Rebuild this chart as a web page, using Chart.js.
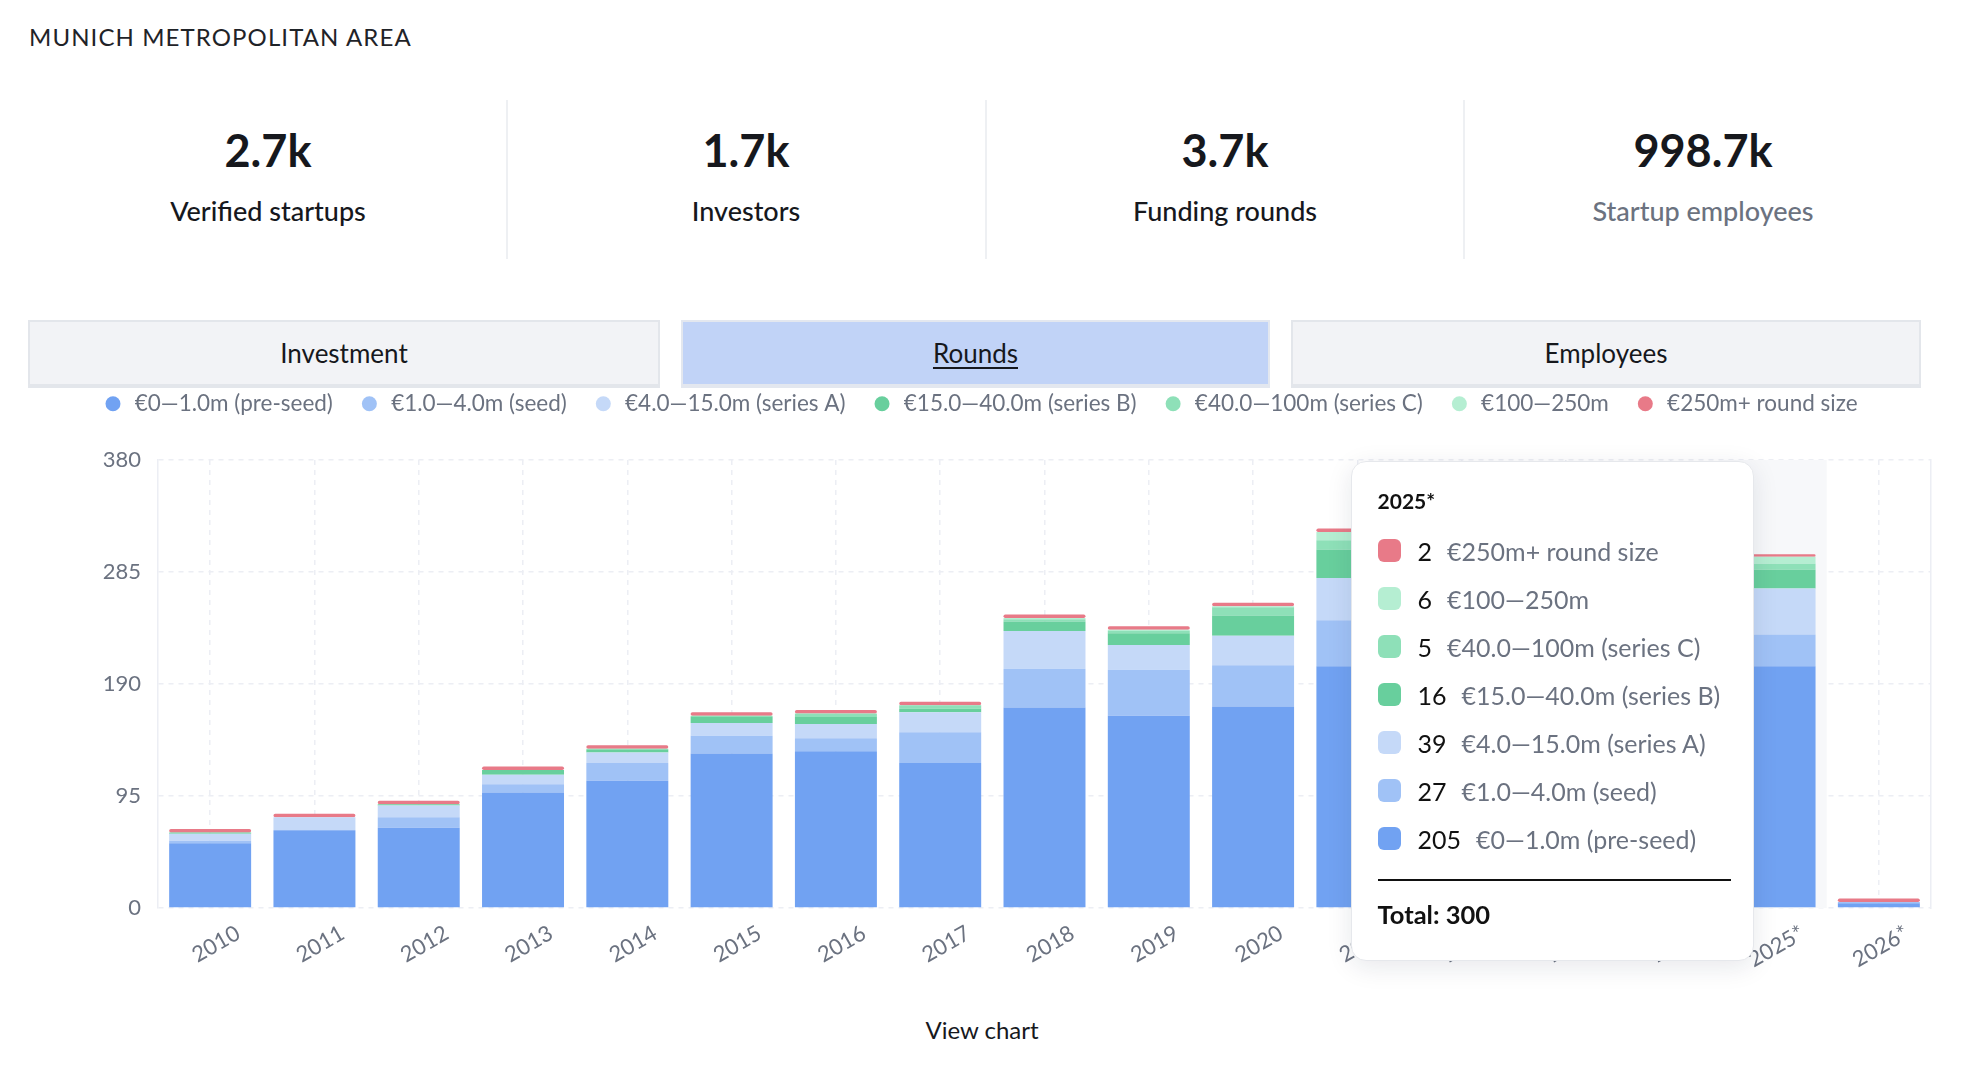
<!DOCTYPE html>
<html><head><meta charset="utf-8">
<script src="https://cdn.jsdelivr.net/npm/chart.js@4.4.1/dist/chart.umd.min.js"></script>
<style>
html,body{margin:0;padding:0;background:#fff;width:1964px;height:1086px;overflow:hidden;font-family:Lato,'Noto Sans',sans-serif;}
.abs{position:absolute;white-space:nowrap;line-height:normal;}
#title{left:29px;top:22px;font-size:24px;letter-spacing:1.1px;color:#1f2328;}
.num{font-size:45px;font-weight:700;color:#16181d;text-align:center;width:478px;top:123px;}
.lab{font-size:27px;font-weight:500;color:#16181d;text-align:center;width:478px;top:194px;}
.lab.gray{color:#6b7280;}
.sep{position:absolute;top:100px;height:159px;width:2px;background:#eef0f3;}
.tab{position:absolute;top:320px;height:68px;box-sizing:border-box;border:2px solid #e3e6eb;border-bottom-width:4px;background:#f2f3f6;display:flex;align-items:center;justify-content:center;font-size:26px;color:#16181d;}
.tab.active{background:#c1d3f7;border-color:#e3e7ef;}
.tab.active span{text-decoration:underline;text-underline-offset:4px;text-decoration-thickness:2px;}
#wrap{position:absolute;left:29px;top:363px;width:1914px;height:623px;}
#view{left:0;width:1964px;text-align:center;top:1015px;font-size:24px;color:#16181d;}
#tt{position:absolute;background:#fff;border:1.5px solid #e6e8ec;border-radius:15px;box-shadow:0 6px 26px rgba(20,30,60,0.10);box-sizing:border-box;width:403px;height:500px;z-index:5;}
#tt .t{position:absolute;left:26px;top:26px;font-size:21px;font-weight:700;color:#111;line-height:normal;}
#tt .row{position:absolute;left:26px;height:30px;display:flex;align-items:center;white-space:nowrap;}
#tt .sw{width:23px;height:23px;border-radius:6px;margin-right:17px;flex:none;}
#tt .v{font-size:25px;color:#111;margin-right:15px;}
#tt .l{font-size:25px;color:#6b7280;}
#tt .line{position:absolute;left:26px;right:22px;top:417px;height:2px;background:#111;}
#tt .tot{position:absolute;left:26px;top:437px;font-size:25.5px;font-weight:700;color:#111;line-height:normal;}
</style></head>
<body>
<div id="title" class="abs">MUNICH METROPOLITAN AREA</div>

<div class="abs num" style="left:29px">2.7k</div>
<div class="abs lab" style="left:29px">Verified startups</div>
<div class="sep" style="left:506px"></div>
<div class="abs num" style="left:507px">1.7k</div>
<div class="abs lab" style="left:507px">Investors</div>
<div class="sep" style="left:985px"></div>
<div class="abs num" style="left:986px">3.7k</div>
<div class="abs lab" style="left:986px">Funding rounds</div>
<div class="sep" style="left:1463px"></div>
<div class="abs num" style="left:1464px">998.7k</div>
<div class="abs lab gray" style="left:1464px">Startup employees</div>

<div class="tab" style="left:28px;width:632px"><span>Investment</span></div>
<div class="tab active" style="left:681px;width:589px"><span>Rounds</span></div>
<div class="tab" style="left:1291px;width:630px"><span>Employees</span></div>

<div id="wrap"><canvas id="c" width="1914" height="623"></canvas></div>
<div id="view" class="abs">View chart</div>

<script>
// ---- data ----
const years = ['2010','2011','2012','2013','2014','2015','2016','2017','2018','2019','2020','2021','2022','2023','2024','2025*','2026*'];
const preSeed  = [55, 66, 68, 98, 108, 131, 133, 123, 170, 163, 171, 205, 215, 195, 200, 205, 4];
const seed     = [2, 0, 9, 7, 15, 15, 11, 26, 33, 39, 35, 39, 42, 35, 30, 27, 1];
const seriesA  = [6, 11, 10, 8, 9, 11, 12, 17, 32, 21, 25, 36, 35, 30, 33, 39, 0];
const seriesB  = [1, 0, 1, 4, 2, 5, 6, 3, 8, 10, 17, 24, 18, 12, 14, 16, 0];
const seriesC  = [0, 0, 0, 0, 1, 1, 3, 3, 2, 2, 7, 8, 6, 4, 5, 5, 0];
const round100 = [0, 0, 0, 0, 0, 0, 0, 0, 1, 1, 1, 7, 4, 3, 4, 6, 0];
const round250 = [3, 3, 3, 3, 3, 3, 3, 3, 3, 3, 3, 3, 2, 2, 2, 2, 3];
const seriesNames = ['€0—1.0m (pre-seed)','€1.0—4.0m (seed)','€4.0—15.0m (series A)','€15.0—40.0m (series B)','€40.0—100m (series C)','€100—250m','€250m+ round size'];
const seriesValues = [preSeed, seed, seriesA, seriesB, seriesC, round100, round250];
const colors = ['#71a2f2','#a0c2f6','#c5d9f8','#68cf9d','#8ee0b8','#b5eed2','#e87a88'];
const yTicks = [0, 95, 190, 285, 380];
const highlightIndex = 15;

const gridColor = '#eceef4';
Chart.defaults.font.family = "Lato, 'Noto Sans', sans-serif";

const legendSpace = {
  id: 'legendSpace',
  beforeInit(chart) {
    const fit = chart.legend.fit;
    chart.legend.fit = function() { fit.bind(chart.legend)(); this.height += 35; };
  }
};
const band = {
  id: 'band',
  beforeDatasetsDraw(chart) {
    const x = chart.scales.x, a = chart.chartArea;
    const w = (x.getPixelForValue(1) - x.getPixelForValue(0));
    const c = x.getPixelForValue(highlightIndex);
    const ctx = chart.ctx;
    ctx.save(); ctx.fillStyle = '#f7f8fa';
    ctx.fillRect(c - w / 2, a.top, w, a.bottom - a.top);
    ctx.restore();
  }
};

function externalTip(context) {
  const {chart, tooltip} = context;
  let el = document.getElementById('tt');
  if (!el) { el = document.createElement('div'); el.id = 'tt'; document.body.appendChild(el); }
  if (!tooltip.dataPoints || !tooltip.dataPoints.length) { el.style.display = 'none'; return; }
  const pts = tooltip.dataPoints;
  let html = '<div class="t">' + pts[0].label + '</div>';
  let total = 0;
  pts.forEach((p, i) => {
    total += p.raw;
    html += '<div class="row" style="top:' + (74 + i * 48) + 'px"><div class="sw" style="background:' + colors[p.datasetIndex] + '"></div>' +
      '<span class="v">' + p.raw + '</span><span class="l">' + p.dataset.label + '</span></div>';
  });
  html += '<div class="line"></div><div class="tot">Total: ' + total + '</div>';
  el.innerHTML = html;
  const wrap = document.getElementById('wrap');
  const cx = chart.scales.x.getPixelForValue(pts[0].dataIndex);
  el.style.left = (wrap.offsetLeft + cx - 21 - 403) + 'px';
  el.style.top = (wrap.offsetTop + chart.chartArea.top + 0.7) + 'px';
  el.style.display = 'block';
}

const chart = new Chart(document.getElementById('c'), {
  type: 'bar',
  data: {
    labels: years,
    datasets: seriesValues.map((vals, i) => ({
      label: seriesNames[i],
      data: vals,
      backgroundColor: colors[i],
      hoverBackgroundColor: colors[i],
      borderWidth: 0,
      borderRadius: 2,
      borderSkipped: false,
      categoryPercentage: 1,
      barPercentage: 0.786
    }))
  },
  options: {
    responsive: false,
    devicePixelRatio: 1,
    animation: false,
    events: [],
    layout: { padding: { left: 0, right: 12, top: 3.5, bottom: 0 } },
    plugins: {
      legend: {
        position: 'top',
        labels: {
          usePointStyle: true, pointStyle: 'circle',
          boxWidth: 21, boxHeight: 10.6, padding: 26,
          color: '#6b7280', font: { size: 22.5 }
        }
      },
      tooltip: {
        enabled: false,
        external: externalTip,
        itemSort: (a, b) => b.datasetIndex - a.datasetIndex
      }
    },
    scales: {
      x: {
        stacked: true,
        grid: { offset: false, color: gridColor, lineWidth: 1.5, drawTicks: false },
        border: { display: false, dash: [5, 5] },
        ticks: { autoSkip: false, minRotation: 30, maxRotation: 30, labelOffset: 28, padding: 12, color: '#6b7280', font: { size: 22 } },
        afterFit(s) { s.height = 78; }
      },
      y: {
        stacked: true, min: 0, max: 380,
        afterBuildTicks(s) { s.ticks = yTicks.map(v => ({ value: v })); },
        grid: { color: gridColor, lineWidth: 1.5, drawTicks: false },
        border: { display: true, dash: [5, 5], color: gridColor, width: 1.5 },
        ticks: { padding: 17, color: '#6b7280', font: { size: 22 } },
        afterFit(s) { s.width = 129; }
      },
      y2: {
        position: 'right', display: true,
        grid: { display: false, drawTicks: false },
        ticks: { display: false },
        border: { display: true, dash: [5, 5], color: gridColor, width: 1.5 }
      }
    }
  },
  plugins: [legendSpace, band]
});

chart.tooltip.setActiveElements(
  seriesValues.map((v, i) => ({ datasetIndex: i, index: highlightIndex })),
  { x: chart.scales.x.getPixelForValue(highlightIndex), y: chart.chartArea.top + 10 }
);
chart.draw();
</script>
</body></html>
